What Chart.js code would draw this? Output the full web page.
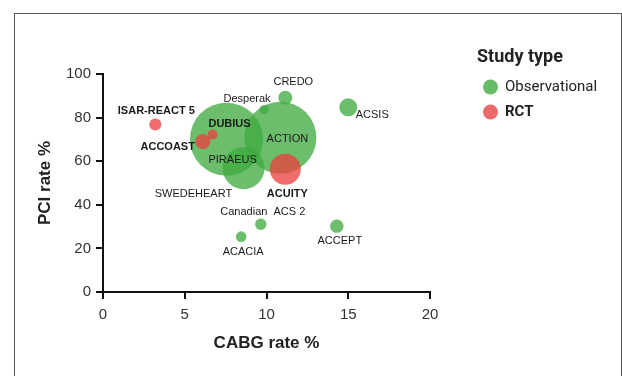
<!DOCTYPE html>
<html><head><meta charset="utf-8">
<script src="https://cdn.jsdelivr.net/npm/chart.js@4/dist/chart.umd.min.js"></script>
<style>
html,body{margin:0;padding:0;background:#fff;overflow:hidden;}
#frame{position:absolute;left:14px;top:13px;width:608px;height:400px;border:1px solid #555;box-sizing:border-box;}
#wrap{position:absolute;left:0;top:0;width:622px;height:376px;}
</style></head><body>
<div id="frame"></div>
<div id="wrap"><canvas id="c" width="622" height="376"></canvas></div>
<script>
// ---- data ----
const studies   = ['ISAR-REACT 5','ACCOAST','DUBIUS','SWEDEHEART','PIRAEUS','ACTION','ACUITY','CREDO','Desperak','ACSIS','Canadian  ACS 2','ACACIA','ACCEPT'];
const studyType = ['RCT','RCT','RCT','Observational','Observational','Observational','RCT','Observational','Observational','Observational','Observational','Observational','Observational'];
const cabgRate  = [3.2, 6.1, 6.7, 7.55, 8.6, 10.85, 11.15, 11.15, 9.85, 15.0, 9.65, 8.45, 14.3];
const pciRate   = [76.8, 69.0, 72.2, 70.1, 56.8, 70.8, 56.3, 89.1, 83.7, 84.7, 31.1, 25.4, 30.2];
const bubbleSize= [6, 7.5, 5, 36.5, 21, 36, 15.5, 7, 4.5, 9, 5.7, 5.3, 6.7];
const xTicks = [0, 5, 10, 15, 20];
const yTicks = [0, 20, 40, 60, 80, 100];
const typeNames = ['Observational', 'RCT'];

// ---- label placement (pixel offsets from bubble centre) ----
const labelDx = [1, -35, 17, -33, -11, 7, 2, 8, -17, 24, 2, 2, 3];
const labelDy = [-14, 5, -11, 55, -8, 1, 24.5, -16, -11, 8, -12, 15, 15];

const colors = { 'Observational': 'rgba(62,170,62,0.76)', 'RCT': 'rgba(236,62,62,0.76)' };
const legendColors = { 'Observational': '#66bb66', 'RCT': '#ec6a6a' };

function buildDataset(type, order) {
  const pts = [];
  studies.forEach((s, i) => {
    if (studyType[i] === type) pts.push({ x: cabgRate[i], y: pciRate[i], r: bubbleSize[i], idx: i });
  });
  return { label: type, data: pts, backgroundColor: colors[type], borderWidth: 0, hoverBorderWidth: 0, order: order };
}

const labelPlugin = {
  id: 'bubbleLabels',
  afterDatasetsDraw(chart) {
    const ctx = chart.ctx;
    ctx.save();
    ctx.textAlign = 'center';
    ctx.textBaseline = 'middle';
    ctx.fillStyle = '#1a1a1a';
    chart.data.datasets.forEach((ds, di) => {
      const meta = chart.getDatasetMeta(di);
      meta.data.forEach((el, j) => {
        const i = ds.data[j].idx;
        ctx.font = (studyType[i] === 'RCT' ? 'bold ' : '') + '11px "Liberation Sans", Arial, sans-serif';
        ctx.fillText(studies[i], el.x + labelDx[i], el.y + labelDy[i]);
      });
    });
    ctx.restore();
  }
};

const legendPlugin = {
  id: 'customLegend',
  afterDraw(chart) {
    const ctx = chart.ctx;
    ctx.save();
    ctx.textBaseline = 'middle';
    ctx.textAlign = 'left';
    ctx.fillStyle = '#222';
    ctx.font = 'bold 18px Roboto, "Liberation Sans", sans-serif';
    ctx.fillText('Study type', 477, 57);
    typeNames.forEach((t, k) => {
      const cy = 87 + k * 25;
      ctx.beginPath();
      ctx.arc(490.5, cy, 7.5, 0, Math.PI * 2);
      ctx.fillStyle = legendColors[t];
      ctx.fill();
      ctx.fillStyle = '#222';
      ctx.font = (t === 'RCT' ? 'bold ' : '') + '15px Roboto, "Liberation Sans", sans-serif';
      ctx.fillText(t, 505, cy + 0.5);
    });
    ctx.restore();
  }
};

const axisFont = { family: '"Liberation Sans", Arial, sans-serif', size: 15 };
const titleFont = { family: '"Liberation Sans", Arial, sans-serif', size: 17, weight: 'bold' };

new Chart(document.getElementById('c'), {
  type: 'bubble',
  data: { datasets: [buildDataset('Observational', 1), buildDataset('RCT', 0)] },
  options: {
    responsive: false,
    animation: false,
    devicePixelRatio: 1,
    layout: { padding: { left: 31, right: 192, top: 74, bottom: 18 } },
    plugins: { legend: { display: false }, tooltip: { enabled: false } },
    scales: {
      x: {
        type: 'linear', min: 0, max: 20,
        afterBuildTicks: s => { s.ticks = xTicks.map(v => ({ value: v })); },
        afterFit: s => { s.height = 66; },
        grid: { drawOnChartArea: false, drawTicks: true, tickLength: 7, color: '#111', lineWidth: 2 },
        border: { display: true, color: '#111', width: 2 },
        ticks: { font: axisFont, color: '#333', padding: 7, maxRotation: 0 },
        title: { display: true, text: 'CABG rate %', font: titleFont, color: '#222', padding: { top: 4, bottom: 4 } }
      },
      y: {
        type: 'linear', min: 0, max: 100,
        afterBuildTicks: s => { s.ticks = yTicks.map(v => ({ value: v })); },
        afterFit: s => { s.width = 72; },
        grid: { drawOnChartArea: false, drawTicks: true, tickLength: 7, color: '#111', lineWidth: 2 },
        border: { display: true, color: '#111', width: 2 },
        ticks: { font: axisFont, color: '#333', padding: 5 },
        title: { display: true, text: 'PCI rate %', font: titleFont, color: '#222', padding: { top: 4, bottom: 4 } }
      }
    }
  },
  plugins: [labelPlugin, legendPlugin]
});
</script>
</body></html>
